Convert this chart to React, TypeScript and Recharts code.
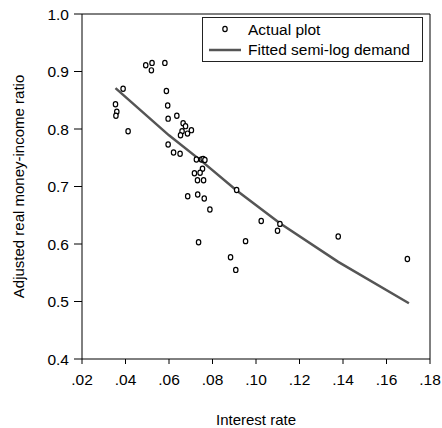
import {
  ComposedChart,
  Legend,
  Line,
  ReferenceLine,
  Scatter,
  XAxis,
  YAxis,
} from "recharts";

const rateTicks = [0.02, 0.04, 0.06, 0.08, 0.1, 0.12, 0.14, 0.16, 0.18];
const ratioTicks = [0.4, 0.5, 0.6, 0.7, 0.8, 0.9, 1.0];

// observed interest rate / adjusted money-income ratio pairs
const actualRate = [
  0.0389, 0.0354, 0.036, 0.0356, 0.0412, 0.0493, 0.0522, 0.0519, 0.0581,
  0.0588, 0.0594, 0.0596, 0.0636, 0.0596, 0.0621, 0.0651, 0.0665, 0.0676,
  0.066, 0.0653, 0.0685, 0.0703, 0.0749, 0.0757, 0.0765, 0.0726, 0.0754,
  0.0717, 0.0743, 0.0731, 0.0759, 0.0686, 0.0732, 0.0762, 0.0788, 0.0736,
  0.0883, 0.0907, 0.0911, 0.1024, 0.111, 0.1099, 0.0952, 0.1378, 0.1696,
];
const actualRatio = [
  0.87, 0.843, 0.83, 0.823, 0.796, 0.911, 0.915, 0.902, 0.915, 0.866, 0.841,
  0.818, 0.823, 0.773, 0.759, 0.757, 0.81, 0.805, 0.796, 0.789, 0.792, 0.798,
  0.747, 0.748, 0.746, 0.747, 0.731, 0.723, 0.724, 0.711, 0.711, 0.683, 0.686,
  0.679, 0.66, 0.603, 0.577, 0.555, 0.694, 0.64, 0.635, 0.623, 0.605, 0.613,
  0.574,
];

// fitted curve vertices
const fittedRate = [0.0354, 0.06, 0.0757, 0.0911, 0.111, 0.1378, 0.1703];
const fittedRatio = [0.871, 0.789, 0.742, 0.693, 0.636, 0.569, 0.497];

const actualData = actualRate.map((x, i) => ({ x, y: actualRatio[i] }));
const fittedData = fittedRate.map((x, i) => ({ x, y: fittedRatio[i] }));

const FONT = "'Liberation Sans', Arial, sans-serif";

function OpenCircle(props: { cx?: number; cy?: number }) {
  const { cx, cy } = props;
  if (cx == null || cy == null) return null;
  return (
    <ellipse
      cx={cx}
      cy={cy}
      rx={2.2}
      ry={2.6}
      fill="#fff"
      stroke="#000"
      strokeWidth={1.2}
    />
  );
}

function ChartLegend() {
  return (
    <div
      style={{
        width: 221,
        height: 45,
        boxSizing: "border-box",
        border: "1px solid #222",
        background: "#fff",
        fontFamily: FONT,
        fontSize: 15.5,
        position: "relative",
      }}
    >
      <svg
        width={221}
        height={45}
        style={{ position: "absolute", left: -1, top: -1 }}
      >
        <ellipse
          cx={23}
          cy={12}
          rx={2.2}
          ry={2.6}
          fill="#fff"
          stroke="#000"
          strokeWidth={1.2}
        />
        <line x1={7} y1={33} x2={39} y2={33} stroke="#555" strokeWidth={2.5} />
        <text x={46} y={18} fontFamily={FONT} fontSize={15.5} fill="#000">
          Actual plot
        </text>
        <text x={46} y={38} fontFamily={FONT} fontSize={15.5} fill="#000">
          Fitted semi-log demand
        </text>
      </svg>
    </div>
  );
}

export default function App() {
  return (
    <div
      style={{
        position: "absolute",
        left: 0,
        top: 0,
        width: 442,
        height: 428,
        background: "#fff",
        fontFamily: FONT,
      }}
    >
      <ComposedChart
        width={442}
        height={428}
        margin={{ top: 14, right: 12, left: 0, bottom: 39 }}
      >
        <XAxis
          dataKey="x"
          type="number"
          domain={[0.02, 0.18]}
          ticks={rateTicks}
          tickFormatter={(v: number) => v.toFixed(2).replace(/^0/, "")}
          tick={{ fill: "#000", fontSize: 15.5, fontFamily: FONT }}
          tickSize={5}
          tickMargin={10}
          stroke="#000"
          height={30}
          allowDataOverflow
          label={{
            value: "Interest rate",
            position: "bottom",
            offset: 25,
            style: { fill: "#000", fontSize: 15, fontFamily: FONT },
          }}
        />
        <YAxis
          dataKey="y"
          type="number"
          domain={[0.4, 1.0]}
          ticks={ratioTicks}
          tickFormatter={(v: number) => v.toFixed(1)}
          tick={{ fill: "#000", fontSize: 15.5, fontFamily: FONT }}
          tickSize={8}
          tickMargin={5}
          stroke="#000"
          width={82}
          allowDataOverflow
          label={{
            value: "Adjusted real money-income ratio",
            angle: -90,
            position: "insideLeft",
            offset: 19,
            style: {
              fill: "#000",
              fontSize: 15,
              fontFamily: FONT,
              textAnchor: "middle",
            },
          }}
        />
        <ReferenceLine y={1.0} stroke="#000" />
        <ReferenceLine x={0.18} stroke="#000" />
        <Legend
          layout="horizontal"
          verticalAlign="middle"
          align="center"
          wrapperStyle={{ left: 202, top: 17, width: 221 }}
          content={() => <ChartLegend />}
        />
        <Scatter
          name="Actual plot"
          data={actualData}
          shape={<OpenCircle />}
          isAnimationActive={false}
        />
        <Line
          name="Fitted semi-log demand"
          data={fittedData}
          dataKey="y"
          type="linear"
          stroke="#555"
          strokeWidth={2.5}
          dot={false}
          activeDot={false}
          isAnimationActive={false}
        />
      </ComposedChart>
    </div>
  );
}
